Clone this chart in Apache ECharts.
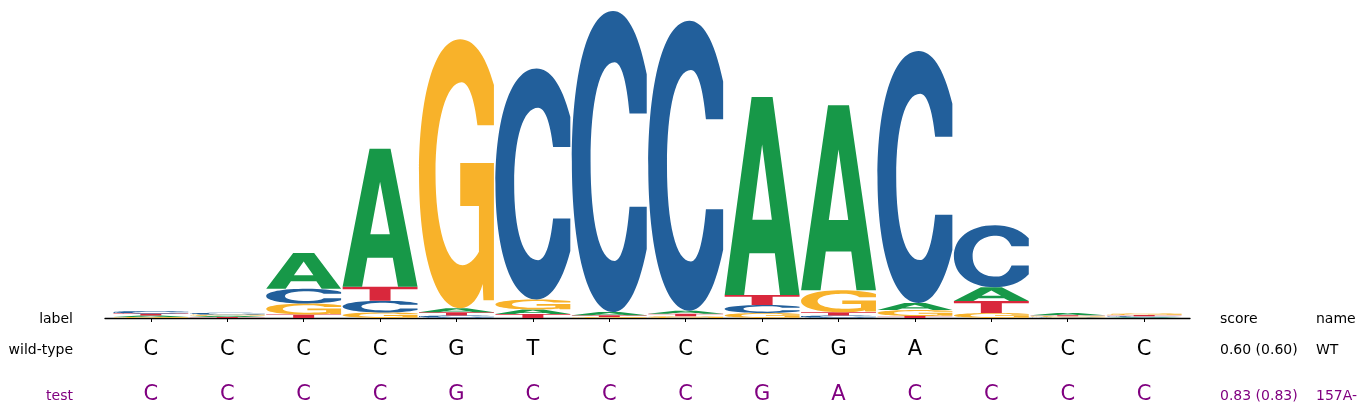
<!DOCTYPE html>
<html>
<head>
<meta charset="utf-8">
<script src="https://cdn.jsdelivr.net/npm/echarts@6/dist/echarts.min.js"></script>
<style>
  html, body { margin: 0; padding: 0; background: #fff; }
  #main { width: 1366px; height: 415px; }
</style>
</head>
<body>
<div id="main"></div>
<script>
// logo heights (bits) per position 0..13
const positions = [0, 1, 2, 3, 4, 5, 6, 7, 8, 9, 10, 11, 12, 13];
const bitsA = [0.010, 0.008, 0.232, 0.890, 0.026, 0.029, 0.021, 0.019, 1.277, 1.194, 0.045, 0.090, 0.015, 0.005];
const bitsC = [0.016, 0.012, 0.094, 0.077, 0.016, 1.490, 1.942, 1.871, 0.052, 0.016, 1.626, 0.400, 0.005, 0.006];
const bitsG = [0.006, 0.008, 0.071, 0.035, 1.735, 0.065, 0.006, 0.011, 0.032, 0.142, 0.039, 0.032, 0.006, 0.010];
const bitsT = [0.013, 0.006, 0.023, 0.090, 0.021, 0.026, 0.011, 0.017, 0.065, 0.021, 0.013, 0.077, 0.006, 0.008];

const wildType = ['C', 'C', 'C', 'C', 'G', 'T', 'C', 'C', 'C', 'G', 'A', 'C', 'C', 'C'];
const testSeq  = ['C', 'C', 'C', 'C', 'G', 'C', 'C', 'C', 'G', 'A', 'C', 'C', 'C', 'C'];
const scores = ['0.60 (0.60)', '0.83 (0.83)'];
const names = ['WT', '157A-'];

const letters = ['A', 'C', 'G', 'T'];
const colors = { A: '#179848', C: '#225f9b', G: '#f8b22a', T: '#d9283c' };

// glyph outlines in a 100x100 box, stretched to fill each stack slot
const glyphs = {
    A: 'M0,100 L36,0 L64,0 L100,100 L74,100 L67,79 L33,79 L26,100 Z M37,62 L63,62 L50,24 Z',
    C: 'M100,21 C88,6 72,0 55,0 C20,0 0,22 0,50 C0,78 20,100 55,100 C72,100 88,94 100,79 ' +
       'L100,65 L77,65 C73,77 66,83 57,83 C37,83 25,70 25,50 C25,30 37,17 57,17 C66,17 73,23 77,34 L100,34 Z',
    G: 'M100,17 C88,5 72,0 55,0 C20,0 0,22 0,50 C0,78 20,100 55,100 C70,100 80,96 85,91 ' +
       'L86,97 L100,97 L100,46 L55,46 L55,62 L80,62 L80,79 C74,82 66,84 58,84 ' +
       'C37,84 22,70 22,50 C22,30 37,16 57,16 C66,16 74,22 78,32 L100,32 Z',
    T: 'M0,0 L100,0 L100,19 L64,19 L64,100 L36,100 L36,19 L0,19 Z'
};

const bits = { A: bitsA, C: bitsC, G: bitsG, T: bitsT };

// stack smallest at the bottom
const stacks = [];
positions.forEach((p, i) => {
    const col = letters.map(l => ({ l, h: bits[l][i] })).sort((a, b) => a.h - b.h);
    let base = 0;
    col.forEach(c => {
        stacks.push([p, base, base + c.h, letters.indexOf(c.l)]);
        base += c.h;
    });
});

const chart = echarts.init(document.getElementById('main'));
const font = 'DejaVu Sans';

function rowText(seq, yOff, color) {
    return {
        type: 'custom',
        data: positions.map((p, i) => [p, i]),
        renderItem: (params, api) => {
            const pt = api.coord([api.value(0), 0]);
            return {
                type: 'text',
                style: {
                    text: seq[api.value(1)],
                    x: pt[0], y: pt[1] + yOff,
                    font: '21px "' + font + '"',
                    fill: color,
                    align: 'center', verticalAlign: 'middle',
                    textAlign: 'center', textVerticalAlign: 'middle'
                }
            };
        },
        clip: false,
        silent: true
    };
}

function label(text, x, y, color, align) {
    return {
        type: 'text',
        style: {
            text, x, y,
            font: '14px "' + font + '"',
            fill: color,
            align, verticalAlign: 'middle',
            textAlign: align, textVerticalAlign: 'middle'
        }
    };
}

const option = {
    animation: false,
    grid: { left: 105, right: 176, top: 8, bottom: 97 },
    xAxis: {
        type: 'value',
        min: -0.6,
        max: 13.6,
        axisLine: { show: true, onZero: true, lineStyle: { color: '#000', width: 1.3 } },
        axisTick: { show: true, customValues: positions, length: 4, lineStyle: { color: '#000', width: 1 } },
        axisLabel: { show: false },
        splitLine: { show: false }
    },
    yAxis: { type: 'value', min: 0, max: 2, show: false },
    graphic: [
        label('label', 73, 319, '#000', 'right'),
        label('wild-type', 73, 350, '#000', 'right'),
        label('test', 73, 396, '#800080', 'right'),
        label('score', 1220, 319, '#000', 'left'),
        label('name', 1316, 319, '#000', 'left'),
        label(scores[0], 1220, 350, '#000', 'left'),
        label(names[0], 1316, 350, '#000', 'left'),
        label(scores[1], 1220, 396, '#800080', 'left'),
        label(names[1], 1316, 396, '#800080', 'left')
    ],
    series: [
        {
            type: 'custom',
            data: stacks,
            renderItem: (params, api) => {
                const x = api.value(0);
                const l = letters[api.value(3)];
                const p0 = api.coord([x - 0.49, api.value(1)]);
                const p1 = api.coord([x + 0.49, api.value(2)]);
                return {
                    type: 'path',
                    shape: {
                        pathData: glyphs[l],
                        x: p0[0], y: p1[1],
                        width: p1[0] - p0[0],
                        height: Math.max(p0[1] - p1[1], 0.3),
                        layout: 'cover'
                    },
                    style: { fill: colors[l] }
                };
            },
            silent: true
        },
        rowText(wildType, 32, '#000'),
        rowText(testSeq, 77, '#800080')
    ]
};

chart.setOption(option);
</script>
</body>
</html>
